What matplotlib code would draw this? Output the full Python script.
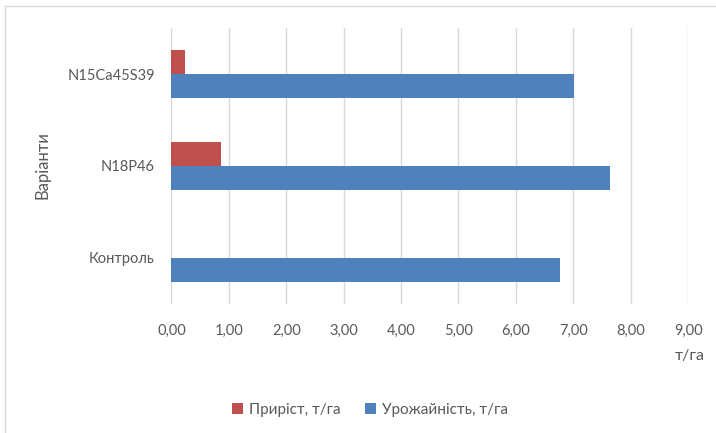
import numpy as np
import matplotlib.pyplot as plt
from matplotlib.patches import Rectangle

# Дані
variants = ["Контроль", "N18P46", "N15Ca45S39"]
yield_t = [6.77, 7.64, 7.01]
increase_t = [0.0, 0.87, 0.24]
x_ticks = [0, 1, 2, 3, 4, 5, 6, 7, 8, 9]

plt.rcParams['font.family'] = ['Lato', 'DejaVu Sans']
text_color = "#595959"

fig = plt.figure(figsize=(7.16, 4.33), dpi=100)
ax = fig.add_axes([0.2395, 0.298, 0.7215, 0.6373])

y = np.arange(len(variants))
h = 0.26
ax.barh(y - h / 2, yield_t, height=h, color="#4F81BD", label="Урожайність, т/га")
ax.barh(y + h / 2, increase_t, height=h, color="#C0504D", label="Приріст, т/га")

ax.set_xlim(0, 9)
ax.set_ylim(-0.5, 2.5)
ax.set_xticks(x_ticks)
ax.set_xticklabels([f"{v:.2f}".replace(".", ",") for v in x_ticks])
ax.set_yticks(y)
ax.set_yticklabels(variants)
ax.tick_params(axis="both", length=0, labelsize=10.5, colors=text_color, pad=14)
ax.tick_params(axis="y", pad=12)
ax.grid(axis="x", color="#D9D9D9", linewidth=1)
ax.set_axisbelow(True)
for s in ax.spines.values():
    s.set_visible(False)
ax.axvline(0, color="#D0D0D0", linewidth=1.2, zorder=0.5)

fig.text(42 / 716, 1 - 165 / 433, "Варіанти", rotation=90, ha="center", va="center",
         fontsize=12, color=text_color)
fig.text(690 / 716, 1 - 356 / 433, "т/га", ha="center", va="center",
         fontsize=11.5, color=text_color)

handles, labels = ax.get_legend_handles_labels()
fig.legend(handles[::-1], labels[::-1], loc="center", bbox_to_anchor=(370 / 716, 1 - 410 / 433),
           ncol=2, frameon=False, fontsize=11, labelcolor=text_color,
           handlelength=0.7, handleheight=0.7, handletextpad=0.4, columnspacing=1.6)

# рамка діаграми
fig.patches.append(Rectangle((5 / 716, -0.1), 1.2, 1 - 6 / 433 + 0.1, transform=fig.transFigure,
                             fill=False, edgecolor="#D9D9D9", linewidth=1))

fig.savefig("out.png", dpi=100)
